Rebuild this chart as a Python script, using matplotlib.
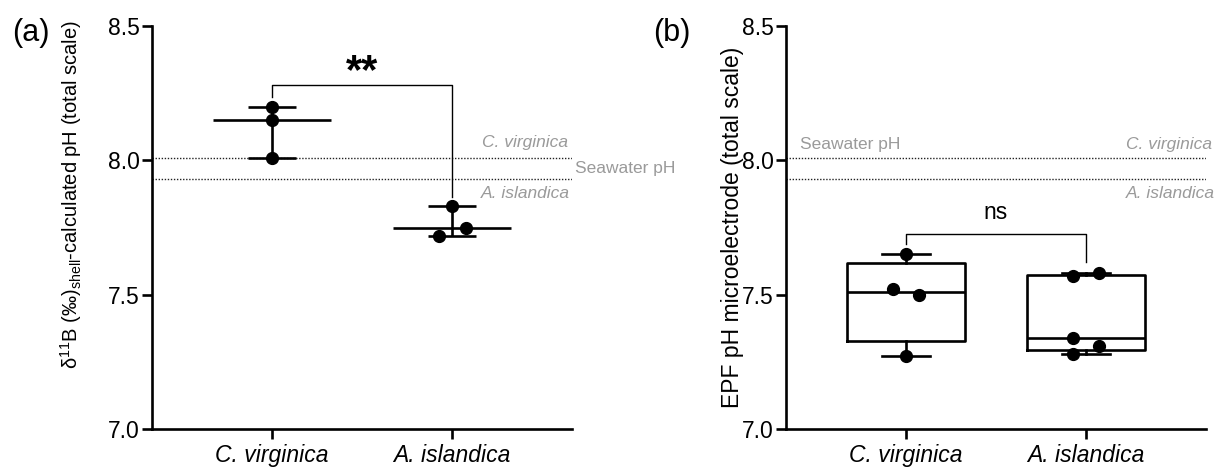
import numpy as np
import matplotlib
matplotlib.use("Agg")
import matplotlib.pyplot as plt

# ---------------- data ----------------
categories = ["C. virginica", "A. islandica"]
a_cv = [8.20, 8.15, 8.01]
a_ai = [7.83, 7.75, 7.72]
b_cv = [7.65, 7.52, 7.50, 7.27]
b_ai = [7.57, 7.58, 7.34, 7.31, 7.28]
seawater_cv = 8.01
seawater_ai = 7.93
yticks = [7.0, 7.5, 8.0, 8.5]
sig_a = "**"
sig_b = "ns"

# horizontal offsets of individual dots (layout only)
a_cv_off = [0.0, 0.0, 0.0]
a_ai_off = [0.0, 0.075, -0.072]
b_cv_off = [0.0, -0.075, 0.07, 0.0]
b_ai_off = [-0.075, 0.07, -0.075, 0.07, -0.075]

plt.rcParams['font.family'] = ['Liberation Sans', 'DejaVu Sans']
plt.rcParams['mathtext.fontset'] = 'custom'
plt.rcParams['mathtext.rm'] = 'Liberation Sans'
plt.rcParams['mathtext.it'] = 'Liberation Sans:italic'
plt.rcParams['mathtext.bf'] = 'Liberation Sans:bold'

W, H = 1218, 467
fig = plt.figure(figsize=(W / 100, H / 100), dpi=100)

def fx(px):
    return px / W

def fy(py):
    return 1 - py / H

ax_a = fig.add_axes([fx(152), fy(429), fx(572) - fx(152), fy(26) - fy(429)])
ax_b = fig.add_axes([fx(786), fy(429), fx(1206) - fx(786), fy(26) - fy(429)])

GRAY = '#9a9a9a'
LW = 1.9
FS = 16.5

def style(ax):
    ax.set_xlim(-2 / 3, 5 / 3)
    ax.set_ylim(7.0, 8.5)
    ax.set_yticks(yticks)
    ax.set_yticklabels([f"{t:.1f}" for t in yticks])
    ax.set_xticks([0, 1])
    ax.set_xticklabels(categories, fontstyle='italic')
    for s in ['top', 'right']:
        ax.spines[s].set_visible(False)
    for s in ['left', 'bottom']:
        ax.spines[s].set_linewidth(LW)
    ax.tick_params(axis='both', labelsize=FS, length=7, width=LW)
    ax.tick_params(axis='y', pad=2)
    ax.tick_params(axis='x', pad=4)
    for yv in (seawater_cv, seawater_ai):
        ax.axhline(yv, color='#222222', lw=1.0, ls=(0, (1, 1.2)), zorder=1)

style(ax_a)
style(ax_b)

# ---------------- panel (a): median with range ----------------
for i, (vals, offs) in enumerate([(a_cv, a_cv_off), (a_ai, a_ai_off)]):
    v = np.array(vals)
    med, lo, hi = np.median(v), v.min(), v.max()
    ax_a.hlines(med, i - 0.33, i + 0.33, color='black', lw=LW, zorder=3)
    ax_a.vlines(i, lo, hi, color='black', lw=LW, zorder=3)
    ax_a.hlines([lo, hi], i - 0.135, i + 0.135, color='black', lw=LW, zorder=3)
    ax_a.plot(np.array(offs) + i, v, 'o', color='black', ms=8.5, zorder=4)

# significance bracket (a)
top_a = 8.28
ax_a.plot([0, 0, 1, 1], [max(a_cv) + 0.035, top_a, top_a, max(a_ai) + 0.035],
          color='black', lw=1.0, zorder=2)
ax_a.text(0.5, 8.33, sig_a, ha='center', va='center',
          fontsize=30, fontweight='bold')

# seawater labels (a)
ax_a.text(1.645, seawater_cv + 0.055, categories[0], color=GRAY, fontstyle='italic',
          fontsize=12.5, ha='right', va='center')
ax_a.text(1.655, seawater_ai - 0.055, categories[1], color=GRAY, fontstyle='italic',
          fontsize=12.5, ha='right', va='center')
ax_a.text(1.683, (seawater_cv + seawater_ai) / 2, "Seawater pH", color=GRAY,
          fontsize=12.5, ha='left', va='center', clip_on=False)

ax_a.set_ylabel(r"δ$^{11}$B (‰)$_{\mathrm{shell}}$-calculated pH (total scale)",
                fontsize=14.5)
ax_a.yaxis.set_label_coords((84 - 152) / 420, (429 - 195) / 403)

# ---------------- panel (b): box plot (min to max) ----------------
def weibull_stats(vals):
    v = np.array(vals)
    q1, med, q3 = np.percentile(v, [25, 50, 75], method='weibull')
    return dict(med=med, q1=q1, q3=q3, whislo=v.min(), whishi=v.max(), fliers=[])

stats = [weibull_stats(b_cv), weibull_stats(b_ai)]
line_kw = dict(color='black', lw=LW)
ax_b.bxp(stats, positions=[0, 1], widths=0.66, capwidths=0.27, showfliers=False,
         boxprops=line_kw, medianprops=line_kw, whiskerprops=line_kw,
         capprops=line_kw, manage_ticks=False, zorder=3)
for i, (vals, offs) in enumerate([(b_cv, b_cv_off), (b_ai, b_ai_off)]):
    ax_b.plot(np.array(offs) + i, vals, 'o', color='black', ms=8.5, zorder=4)

# significance bracket (b)
top_b = 7.727
ax_b.plot([0, 0, 1, 1], [max(b_cv) + 0.04, top_b, top_b, max(b_ai) + 0.04],
          color='black', lw=1.0, zorder=2)
ax_b.text(0.5, top_b + 0.035, sig_b, ha='center', va='bottom', fontsize=FS)

ax_b.text(-0.589, seawater_cv + 0.05, "Seawater pH", color=GRAY, fontsize=12.5,
          ha='left', va='center')
ax_b.text(1.70, seawater_cv + 0.05, categories[0], color=GRAY, fontstyle='italic',
          fontsize=12.5, ha='right', va='center', clip_on=False)
ax_b.text(1.715, seawater_ai - 0.055, categories[1], color=GRAY, fontstyle='italic',
          fontsize=12.5, ha='right', va='center', clip_on=False)

ax_b.set_ylabel("EPF pH microelectrode (total scale)", fontsize=FS)
ax_b.yaxis.set_label_coords((744 - 786) / 420, 0.5)

fig.text(fx(12), fy(33), "(a)", fontsize=22, ha='left', va='center')
fig.text(fx(653), fy(33), "(b)", fontsize=22, ha='left', va='center')

fig.savefig("out.png", dpi=100)
